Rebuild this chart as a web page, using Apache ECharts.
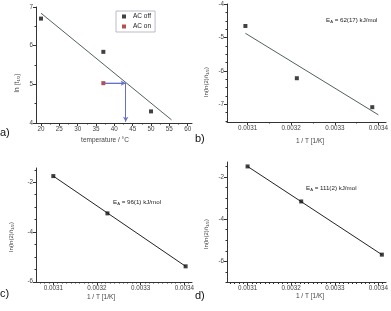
<!DOCTYPE html>
<html><head><meta charset="utf-8">
<script src="https://cdn.jsdelivr.net/npm/echarts@6/dist/echarts.min.js"></script>
<style>html,body{margin:0;padding:0;background:#fff}#c{width:391px;height:311px}</style>
</head><body><div id="c"></div>
<script>
// ---- panel a data ----
const aTempOff = [20, 37, 50];
const aLnOff = [6.70, 5.84, 4.30];
const aTempOn = [37];
const aLnOn = [5.03];
const aFitX = [20, 55.6];
const aFitY = [6.84, 4.08];
const aArrowX = [37.2, 43.1, 43.1];
const aArrowY = [5.03, 5.03, 4.03];
const aXTicks = [20, 25, 30, 35, 40, 45, 50, 55, 60];
const aYTicks = [4, 5, 6, 7];
// ---- panel b data ----
const bX = [0.003095, 0.003213, 0.003386];
const bY = [-4.65, -6.22, -7.09];
const bFitX = [0.003095, 0.0034];
const bFitY = [-4.87, -7.32];
const bYTicks = [-7, -6, -5, -4];
// ---- panel c data ----
const cX = [0.0031, 0.003224, 0.003403];
const cY = [-1.75, -3.25, -5.38];
const cYTicks = [-6, -4, -2];
// ---- panel d data ----
const dX = [0.0031, 0.003223, 0.003408];
const dY = [-1.50, -3.16, -5.68];
const dYTicks = [-6, -4, -2];
// shared inverse temperature ticks
const invTTicks = [0.0031, 0.0032, 0.0033, 0.0034];

const FF = 'Liberation Sans, Arial, sans-serif';
const AX = '#333';
const TX = '#444';

function zip(xs, ys) { return xs.map((x, i) => [x, ys[i]]); }
function range(a, b, s) { const r = []; for (let v = a; v <= b + s * 1e-6; v += s) r.push(+v.toFixed(8)); return r; }

const grids = [
  {left: 36, top: 7, width: 156, height: 116},
  {left: 227, top: 4, width: 160, height: 118},
  {left: 36, top: 168, width: 156, height: 114},
  {left: 227, top: 162, width: 160, height: 120.5}
];
const xr = [[18.64, 61.17], [0.0030528, 0.0034176], [0.0030604, 0.0034176], [0.0030528, 0.0034176]];
const yr = [[4, 7], [-7.535, -3.99], [-6.01, -1.425], [-7, -1.29]];
const xMaj = [aXTicks, invTTicks, invTTicks, invTTicks];
const yMaj = [aYTicks, bYTicks, cYTicks, dYTicks];
const xMin = [range(20, 60, 2.5), range(0.00305, 0.0034, 0.00005), range(0.00307, 0.00341, 0.00001), range(0.00306, 0.00341, 0.00001)];
const yMin = [range(4, 7, 0.5), range(-7.5, -4, 0.25), range(-6, -1.5, 0.5), range(-7, -1.5, 0.5)];

const xAxis = [], yAxis = [];
for (let i = 0; i < 4; i++) {
  xAxis.push({
    type: 'value', gridIndex: i, min: xr[i][0], max: xr[i][1], position: 'bottom',
    axisLine: {show: true, onZero: false, lineStyle: {color: AX, width: 1}},
    axisTick: {show: true, customValues: xMaj[i], length: 3, lineStyle: {color: AX}},
    axisLabel: {customValues: xMaj[i], margin: 3, fontSize: 6.3, color: TX, fontFamily: FF,
      formatter: v => i === 0 ? String(v) : v.toFixed(4)},
    splitLine: {show: false}
  });
  xAxis.push({
    type: 'value', gridIndex: i, min: xr[i][0], max: xr[i][1], position: 'bottom', offset: 0,
    axisLine: {show: false, onZero: false},
    axisTick: {show: true, customValues: xMin[i], length: 1.5, lineStyle: {color: AX}},
    axisLabel: {show: false}, splitLine: {show: false}
  });
  yAxis.push({
    type: 'value', gridIndex: i, min: yr[i][0], max: yr[i][1], position: 'left',
    axisLine: {show: true, onZero: false, lineStyle: {color: AX, width: 1}},
    axisTick: {show: true, customValues: yMaj[i], length: 3, lineStyle: {color: AX}},
    axisLabel: {customValues: yMaj[i], margin: 3, fontSize: 6.3, color: TX, fontFamily: FF},
    splitLine: {show: false}
  });
  yAxis.push({
    type: 'value', gridIndex: i, min: yr[i][0], max: yr[i][1], position: 'left', offset: 0,
    axisLine: {show: false, onZero: false},
    axisTick: {show: true, customValues: yMin[i], length: 1.5, lineStyle: {color: AX}},
    axisLabel: {show: false}, splitLine: {show: false}
  });
}

function fitLine(i, xs, ys, color) {
  return {type: 'line', xAxisIndex: 2 * i, yAxisIndex: 2 * i, data: zip(xs, ys), symbol: 'none',
    lineStyle: {color: color, width: 1}, silent: true, z: 2};
}
function pts(i, xs, ys, color, name) {
  const s = {type: 'scatter', xAxisIndex: 2 * i, yAxisIndex: 2 * i, data: zip(xs, ys), symbol: 'rect',
    symbolSize: 4, itemStyle: {color: color}, z: 3};
  if (name) s.name = name;
  return s;
}

const series = [
  fitLine(0, aFitX, aFitY, '#52615e'),
  {type: 'line', xAxisIndex: 0, yAxisIndex: 0, data: zip(aArrowX.slice(0, 2), aArrowY.slice(0, 2)), symbol: 'none',
    lineStyle: {color: '#6470cc', width: 1}, z: 2,
    markLine: {silent: true, symbol: ['none', 'arrow'], symbolSize: [4, 5], label: {show: false},
      lineStyle: {color: '#6470cc', width: 1, type: 'solid'},
      data: [
        [{coord: [aArrowX[0], aArrowY[0]]}, {coord: [aArrowX[1], aArrowY[1]]}],
        [{coord: [aArrowX[1], aArrowY[1]]}, {coord: [aArrowX[2], aArrowY[2]]}]
      ]}},
  pts(0, aTempOff, aLnOff, '#111', 'AC off'),
  pts(0, aTempOn, aLnOn, '#a3261f', 'AC on'),
  fitLine(1, bFitX, bFitY, '#52615e'),
  pts(1, bX, bY, '#111'),
  fitLine(2, [cX[0], cX[2]], [cY[0], cY[2]], '#222'),
  pts(2, cX, cY, '#111'),
  fitLine(3, [dX[0], dX[2]], [dY[0], dY[2]], '#222'),
  pts(3, dX, dY, '#111')
];

function txt(x, y, s) {
  return {type: 'text', x: x, y: y, style: {text: s, fill: TX, font: '6.5px ' + FF, align: 'center', verticalAlign: 'middle'}};
}
function eaText(x, y, val) {
  return {type: 'text', x: x, y: y,
    style: {text: '{n|E}{s|A}{n| = ' + val + ' kJ/mol}', align: 'left', verticalAlign: 'middle',
      rich: {n: {fontSize: 6.2, fontFamily: FF, fill: '#222'}, s: {fontSize: 4.2, fontFamily: FF, fill: '#222', padding: [4, 0, 0, 0]}}}};
}
function vTitle(x, y, text, fs) {
  return {type: 'text', x: x, y: y, rotation: Math.PI / 2,
    style: {text: text, align: 'center', verticalAlign: 'middle',
      rich: {n: {fontSize: fs, fontFamily: FF, fill: TX}, s: {fontSize: 4.2, fontFamily: FF, fill: TX, padding: [4, 0, 0, 0]}}}};
}
const yTitle = '{n|ln(ln(2)/t}{s|1/2}{n|)}';
const graphic = [
  txt(105, 140, 'temperature / °C'),
  txt(310, 141, '1 / T [1/K]'),
  txt(101, 297, '1 / T [1/K]'),
  txt(310, 296, '1 / T [1/K]'),
  vTitle(17, 83, '{n|ln (t}{s|1/2}{n|)}', 6.5),
  vTitle(206, 82, yTitle, 6),
  vTitle(11, 237, yTitle, 6),
  vTitle(206, 234, yTitle, 6),
  eaText(326, 20, '62(17)'),
  eaText(113, 202, '96(1)'),
  eaText(306, 188, '111(2)'),
  {type: 'text', x: 0, y: 133, style: {text: 'a)', font: '11px ' + FF, fill: '#111', align: 'left', verticalAlign: 'middle'}},
  {type: 'text', x: 195, y: 139, style: {text: 'b)', font: '11px ' + FF, fill: '#111', align: 'left', verticalAlign: 'middle'}},
  {type: 'text', x: 0, y: 294, style: {text: 'c)', font: '11px ' + FF, fill: '#111', align: 'left', verticalAlign: 'middle'}},
  {type: 'text', x: 195, y: 296, style: {text: 'd)', font: '11px ' + FF, fill: '#111', align: 'left', verticalAlign: 'middle'}}
];

const chart = echarts.init(document.getElementById('c'), null, {renderer: 'canvas'});
chart.setOption({
  animation: false,
  backgroundColor: '#fff',
  grid: grids,
  xAxis: xAxis,
  yAxis: yAxis,
  legend: {data: ['AC off', 'AC on'], orient: 'vertical', left: 116, top: 11, itemWidth: 4, itemHeight: 4,
    itemGap: 3, padding: [2, 4, 2, 6], borderColor: '#aab', borderWidth: 0.8, borderRadius: 0,
    icon: 'rect', textStyle: {fontSize: 6.5, fontFamily: FF, color: '#222', padding: [0, 0, 0, 2]}, selectedMode: false},
  series: series,
  graphic: graphic
});
</script></body></html>
